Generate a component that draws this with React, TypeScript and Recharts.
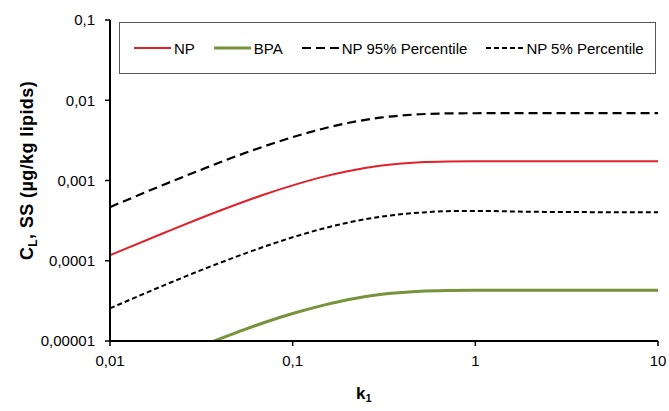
import React from "react";
import { LineChart, Line, XAxis, YAxis, Legend } from "recharts";

// k1 values on the x axis
const kValues = [0.01, 0.02, 0.03, 0.05, 0.07, 0.1, 0.15, 0.2, 0.3, 0.5, 0.7, 1, 2, 5, 10];

// steady-state concentrations (µg/kg lipids)
const npValues = [
  1.17e-4, 2.25e-4, 3.27e-4, 5.1e-4, 6.7e-4, 8.7e-4, 1.126e-3, 1.305e-3, 1.523e-3,
  1.686e-3, 1.726e-3, 1.738e-3, 1.74e-3, 1.74e-3, 1.74e-3,
];
const bpaValues = [
  2.97e-6, 5.74e-6, 8.3e-6, 1.29e-5, 1.7e-5, 2.2e-5, 2.82e-5, 3.27e-5, 3.79e-5,
  4.16e-5, 4.25e-5, 4.28e-5, 4.28e-5, 4.28e-5, 4.28e-5,
];
const np95Values = [
  4.66e-4, 9.0e-4, 1.3e-3, 2.04e-3, 2.67e-3, 3.47e-3, 4.48e-3, 5.2e-3, 6.06e-3,
  6.69e-3, 6.85e-3, 6.89e-3, 6.9e-3, 6.9e-3, 6.9e-3,
];
const np5Values = [
  2.55e-5, 5.0e-5, 7.3e-5, 1.14e-4, 1.5e-4, 1.96e-4, 2.55e-4, 2.98e-4, 3.52e-4,
  3.98e-4, 4.15e-4, 4.18e-4, 4.08e-4, 4.03e-4, 4.02e-4,
];

const xTicks = [0.01, 0.1, 1, 10];
const yTicks = [0.00001, 0.0001, 0.001, 0.01, 0.1];

const data = kValues.map((k, i) => ({
  k,
  np: npValues[i],
  bpa: bpaValues[i],
  np95: np95Values[i],
  np5: np5Values[i],
}));

const series = [
  { key: "np", name: "NP", color: "#e0202a", width: 2, dash: undefined as string | undefined },
  { key: "bpa", name: "BPA", color: "#77933c", width: 3, dash: undefined as string | undefined },
  { key: "np95", name: "NP 95% Percentile", color: "#000", width: 2.2, dash: "9 5" },
  { key: "np5", name: "NP 5% Percentile", color: "#000", width: 2, dash: "5 3" },
];

const FONT = "'Liberation Sans', Arial, sans-serif";
const fmt = (v: number) => String(v).replace(".", ",");

const YLabel = (props: any) => {
  const vb = props.viewBox;
  const cx = vb.x + 33;
  const cy = vb.y + vb.height / 2 - 10;
  return (
    <text
      x={cx}
      y={cy}
      transform={`rotate(-90 ${cx} ${cy})`}
      textAnchor="middle"
      fontFamily={FONT}
      fontWeight="bold"
      fontSize={18}
      letterSpacing={0.4}
      fill="#000"
    >
      C<tspan fontSize={12} dy={4}>L</tspan>
      <tspan dy={-4}>, SS (µg/kg lipids)</tspan>
    </text>
  );
};

const XLabel = (props: any) => {
  const vb = props.viewBox;
  const x = vb.x + vb.width / 2 - 28;
  const y = vb.y + 58;
  return (
    <text x={x} y={y} fontFamily={FONT} fontWeight="bold" fontSize={17} fill="#000">
      k<tspan fontSize={11} dy={3}>1</tspan>
    </text>
  );
};

const LegendBox = () => (
  <div
    style={{
      boxSizing: "border-box",
      width: 537,
      height: 52,
      border: "1px solid #555",
      background: "#fff",
      display: "flex",
      alignItems: "center",
      paddingLeft: 14,
      fontFamily: FONT,
      fontSize: 15,
      color: "#000",
      whiteSpace: "nowrap",
    }}
  >
    {series.map((s) => (
      <div
        key={s.key}
        style={{ display: "flex", alignItems: "center", marginRight: 19, flexShrink: 0 }}
      >
        <svg width={37} height={8} style={{ marginRight: 3 }}>
          <line
            x1={0}
            y1={4}
            x2={37}
            y2={4}
            stroke={s.color}
            strokeWidth={s.width}
            strokeDasharray={s.dash}
          />
        </svg>
        <span>{s.name}</span>
      </div>
    ))}
  </div>
);

export default function App() {
  return (
    <div style={{ position: "absolute", left: 0, top: 0, background: "#fff" }}>
      <LineChart
        width={669}
        height={411}
        data={data}
        margin={{ top: 20, right: 11, bottom: 0, left: 0 }}
      >
        <XAxis
          dataKey="k"
          type="number"
          scale="log"
          domain={[0.01, 10]}
          ticks={xTicks}
          tickFormatter={fmt}
          height={70}
          tickSize={5}
          tickMargin={9}
          axisLine={{ stroke: "#000", strokeWidth: 2 }}
          tickLine={{ stroke: "#000", strokeWidth: 1.5 }}
          tick={{ fill: "#000", fontSize: 15, fontFamily: FONT }}
          label={<XLabel />}
        />
        <YAxis
          type="number"
          scale="log"
          domain={[0.00001, 0.1]}
          allowDataOverflow
          ticks={yTicks}
          tickFormatter={fmt}
          width={110}
          tickSize={5}
          tickMargin={10}
          axisLine={{ stroke: "#000", strokeWidth: 2 }}
          tickLine={{ stroke: "#000", strokeWidth: 1.5 }}
          tick={{ fill: "#000", fontSize: 15, fontFamily: FONT }}
          label={<YLabel />}
        />
        <Legend
          layout="horizontal"
          verticalAlign="middle"
          align="center"
          content={<LegendBox />}
          wrapperStyle={{ position: "absolute", left: 119, top: 22, width: 537, height: 52 }}
        />
        {series.map((s) => (
          <Line
            key={s.key}
            dataKey={s.key}
            name={s.name}
            type="monotone"
            stroke={s.color}
            strokeWidth={s.width}
            strokeDasharray={s.dash}
            dot={false}
            activeDot={false}
            isAnimationActive={false}
          />
        ))}
      </LineChart>
    </div>
  );
}
